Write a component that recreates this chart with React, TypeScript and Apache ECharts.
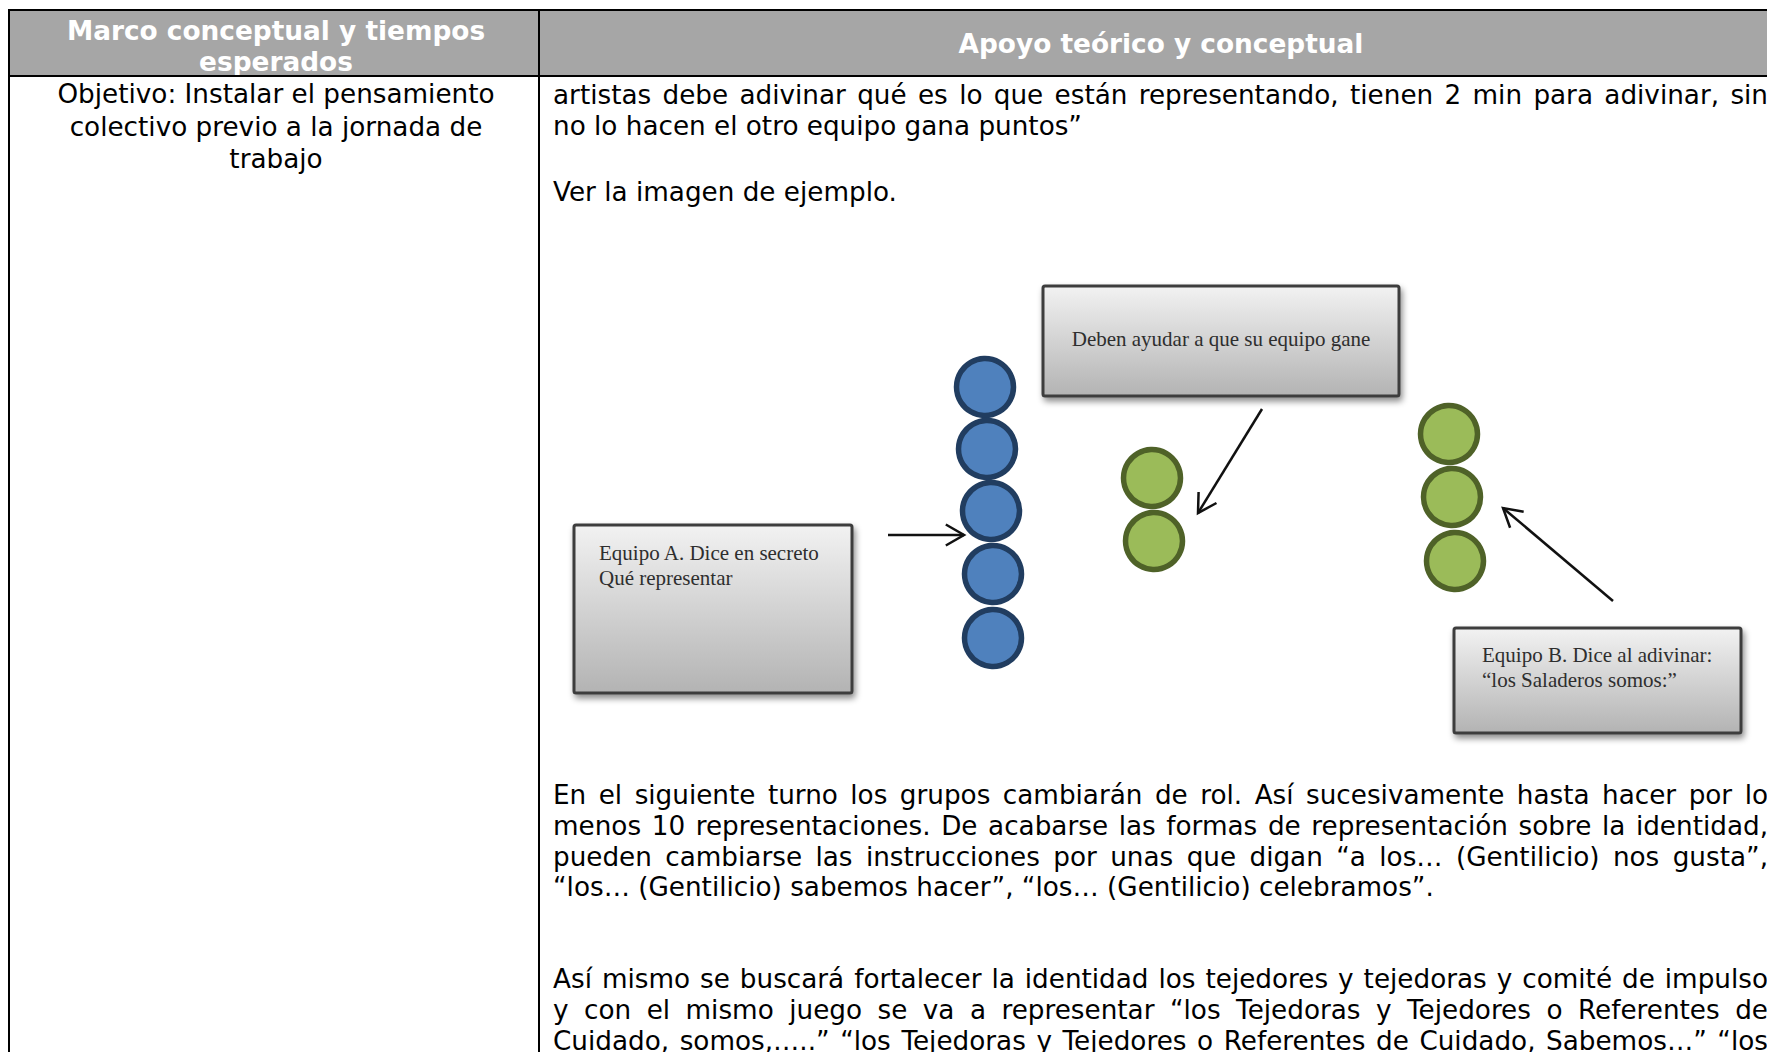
import React, { useEffect, useRef } from "react";
import * as echarts from "echarts";

const W = 1767;
const H = 1052;

// ---- texts ----
const headerLeftLines = ["Marco conceptual y tiempos", "esperados"];
const headerRightText = "Apoyo teórico y conceptual";
const leftCellLines = [
  "Objetivo: Instalar el pensamiento",
  "colectivo previo a la jornada de",
  "trabajo",
];
const introLines = [
  "artistas debe adivinar qué es lo que están representando, tienen 2 min para adivinar, sin",
  "no lo hacen el otro equipo gana puntos”",
];
const introJustified = [true, false];
const seeImageLine = "Ver la imagen de ejemplo.";
const paragraph1Lines = [
  "En el siguiente turno los grupos cambiarán de rol. Así sucesivamente hasta hacer por lo",
  "menos 10 representaciones. De acabarse las formas de representación sobre la identidad,",
  "pueden cambiarse las instrucciones por unas que digan “a los… (Gentilicio) nos gusta”,",
  "“los… (Gentilicio) sabemos hacer”, “los… (Gentilicio) celebramos”.",
];
const paragraph1Justified = [true, true, true, false];
const paragraph2Lines = [
  "Así mismo se buscará fortalecer la identidad los tejedores y tejedoras y comité de impulso",
  "y con el mismo juego se va a representar “los Tejedoras y Tejedores o Referentes de",
  "Cuidado, somos,…..” “los Tejedoras y Tejedores o Referentes de Cuidado, Sabemos…” “los",
];
const paragraph2Justified = [true, true, true];

const boxATexts = ["Equipo A. Dice en secreto", "Qué representar"];
const boxTopText = "Deben ayudar a que su equipo gane";
const boxBTexts = ["Equipo B. Dice al adivinar:", "“los Saladeros somos:”"];

// team members (circles) per group
const teamACount = 5;
const middleCount = 2;
const teamBCount = 3;

// ---- layout ----
const TABLE_TOP = 10;
const HEADER_BOTTOM = 76;
const LEFT_X = 9;
const DIV_X = 539;
const RIGHT_EDGE = 1783;
const TEXT_X = 553;
const JUSTIFY_RIGHT = 1768;
const LINE_H = 30.8;

const SANS = "'DejaVu Sans', Verdana, sans-serif";
const SERIF = "'Liberation Serif', 'Times New Roman', serif";

const canvas = typeof document !== "undefined" ? document.createElement("canvas") : null;
const ctx = canvas ? canvas.getContext("2d") : null;
function measure(text: string, font: string): number {
  if (!ctx) return text.length * 10;
  ctx.font = font;
  return ctx.measureText(text).width;
}

function buildGraphics() {
  const els: any[] = [];
  // calibrate font sizes to the reference widths
  const bodySize = (24 * 881) / measure(paragraph1Lines[3], `24px ${SANS}`);
  const bodyFont = `${bodySize.toFixed(2)}px ${SANS}`;
  const headSize = (24 * 405) / measure(headerRightText, `bold 24px ${SANS}`);
  const headFont = `bold ${headSize.toFixed(2)}px ${SANS}`;

  // header background
  els.push({
    type: "rect",
    shape: { x: LEFT_X, y: TABLE_TOP, width: RIGHT_EDGE - LEFT_X, height: HEADER_BOTTOM - TABLE_TOP },
    style: { fill: "#a6a6a6" },
    z: 1,
  });
  // table lines
  const lines = [
    [LEFT_X - 1, TABLE_TOP, W, TABLE_TOP],
    [LEFT_X - 1, HEADER_BOTTOM, W, HEADER_BOTTOM],
    [LEFT_X, TABLE_TOP, LEFT_X, H],
    [DIV_X, TABLE_TOP, DIV_X, H],
  ];
  lines.forEach(([x1, y1, x2, y2]) =>
    els.push({
      type: "line",
      shape: { x1, y1, x2, y2 },
      style: { stroke: "#000", lineWidth: 2 },
      z: 5,
    })
  );

  const leftCenter = (LEFT_X + DIV_X) / 2 + 2;
  headerLeftLines.forEach((t, i) =>
    els.push({
      type: "text",
      style: { text: t, x: leftCenter, y: 31 + i * 31, font: headFont, fill: "#ffffff", textAlign: "center", textVerticalAlign: "middle" },
      z: 4,
    })
  );
  els.push({
    type: "text",
    style: { text: headerRightText, x: (DIV_X + RIGHT_EDGE) / 2, y: 44, font: headFont, fill: "#ffffff", textAlign: "center", textVerticalAlign: "middle" },
    z: 4,
  });

  leftCellLines.forEach((t, i) =>
    els.push({
      type: "text",
      style: { text: t, x: leftCenter, y: 94 + i * 32.5, font: bodyFont, fill: "#000", textAlign: "center", textVerticalAlign: "middle" },
      z: 4,
    })
  );

  const addLine = (t: string, y: number, justify: boolean) => {
    if (!justify) {
      els.push({
        type: "text",
        style: { text: t, x: TEXT_X, y, font: bodyFont, fill: "#000", textAlign: "left", textVerticalAlign: "middle" },
        z: 4,
      });
      return;
    }
    const words = t.split(" ");
    const widths = words.map((w) => measure(w, bodyFont));
    const total = widths.reduce((a, b) => a + b, 0);
    const gap = (JUSTIFY_RIGHT - TEXT_X - total) / (words.length - 1);
    let x = TEXT_X;
    words.forEach((w, i) => {
      els.push({
        type: "text",
        style: { text: w, x, y, font: bodyFont, fill: "#000", textAlign: "left", textVerticalAlign: "middle" },
        z: 4,
      });
      x += widths[i] + gap;
    });
  };

  introLines.forEach((t, i) => addLine(t, 95 + i * LINE_H, introJustified[i]));
  addLine(seeImageLine, 192, false);
  paragraph1Lines.forEach((t, i) => addLine(t, 795 + i * LINE_H, paragraph1Justified[i]));
  paragraph2Lines.forEach((t, i) => addLine(t, 979 + i * LINE_H, paragraph2Justified[i]));

  // ---- diagram ----
  const boxGrad = {
    type: "linear",
    x: 0, y: 0, x2: 0, y2: 1,
    colorStops: [
      { offset: 0, color: "#f2f2f2" },
      { offset: 1, color: "#b3b3b3" },
    ],
  };
  const box = (x: number, y: number, w: number, h: number) =>
    els.push({
      type: "rect",
      shape: { x, y, width: w, height: h, r: 2 },
      style: {
        fill: boxGrad,
        stroke: "#3c3c3c",
        lineWidth: 3,
        shadowBlur: 6,
        shadowOffsetX: 2,
        shadowOffsetY: 4,
        shadowColor: "rgba(0,0,0,0.45)",
      },
      z: 2,
    });
  box(574, 525, 278, 168);
  box(1043, 286, 356, 110);
  box(1454, 628, 287, 105);

  const serifFont = `21px ${SERIF}`;
  boxATexts.forEach((t, i) =>
    els.push({
      type: "text",
      style: { text: t, x: 599, y: 553 + i * 25, font: serifFont, fill: "#2e2e2e", textAlign: "left", textVerticalAlign: "middle" },
      z: 4,
    })
  );
  els.push({
    type: "text",
    style: { text: boxTopText, x: 1221, y: 339, font: serifFont, fill: "#2e2e2e", textAlign: "center", textVerticalAlign: "middle" },
    z: 4,
  });
  boxBTexts.forEach((t, i) =>
    els.push({
      type: "text",
      style: { text: t, x: 1482, y: 655 + i * 25, font: serifFont, fill: "#2e2e2e", textAlign: "left", textVerticalAlign: "middle" },
      z: 4,
    })
  );

  // circles
  const teamACenters = [
    [985, 387], [987, 449], [991, 511], [993, 574], [993, 638],
  ].slice(0, teamACount);
  const middleCenters = [[1152, 478], [1154, 541]].slice(0, middleCount);
  const teamBCenters = [[1449, 434], [1452, 497], [1455, 561]].slice(0, teamBCount);
  const circ = (c: number[], fill: string, stroke: string) =>
    els.push({
      type: "circle",
      shape: { cx: c[0], cy: c[1], r: 28.5 },
      style: { fill, stroke, lineWidth: 5.5 },
      z: 3,
    });
  teamACenters.forEach((c) => circ(c, "#4f81bd", "#213d60"));
  middleCenters.forEach((c) => circ(c, "#9bbb59", "#4f6228"));
  teamBCenters.forEach((c) => circ(c, "#9bbb59", "#4f6228"));

  // arrows
  const arrow = (x1: number, y1: number, x2: number, y2: number) => {
    els.push({
      type: "line",
      shape: { x1, y1, x2, y2 },
      style: { stroke: "#111", lineWidth: 2.5 },
      z: 3,
    });
    const ang = Math.atan2(y2 - y1, x2 - x1);
    const L = 21;
    const a = (30 * Math.PI) / 180;
    els.push({
      type: "polyline",
      shape: {
        points: [
          [x2 - L * Math.cos(ang - a), y2 - L * Math.sin(ang - a)],
          [x2, y2],
          [x2 - L * Math.cos(ang + a), y2 - L * Math.sin(ang + a)],
        ],
      },
      style: { stroke: "#111", lineWidth: 2.5, fill: null },
      z: 3,
    });
  };
  arrow(888, 535, 964, 535);
  arrow(1262, 409, 1198, 513);
  arrow(1613, 601, 1503, 508);

  return els;
}

export default function App() {
  const ref = useRef<HTMLDivElement>(null);
  useEffect(() => {
    if (!ref.current) return;
    const chart = echarts.init(ref.current, null, { renderer: "svg" });
    chart.setOption({
      animation: false,
      backgroundColor: "#ffffff",
      graphic: { elements: buildGraphics() },
    });
    return () => chart.dispose();
  }, []);
  return (
    <div
      ref={ref}
      style={{ position: "fixed", left: 0, top: 0, width: W, height: H, background: "#fff" }}
    />
  );
}
